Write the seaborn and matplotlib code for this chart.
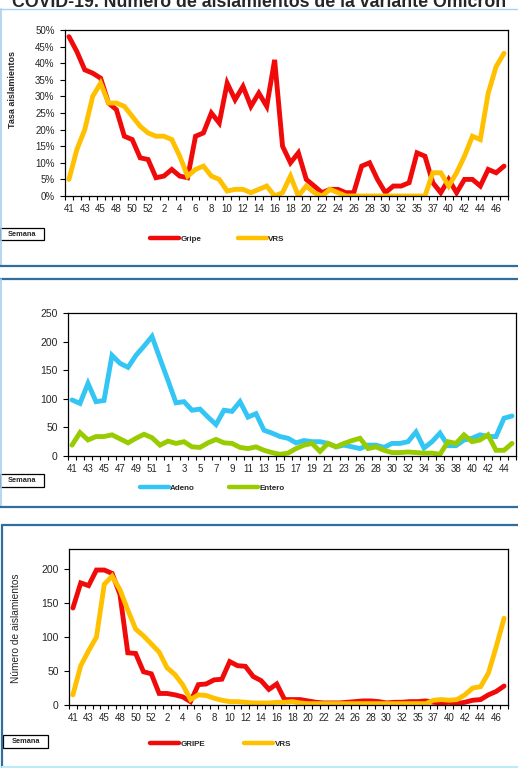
import numpy as np
import pandas as pd
import matplotlib
matplotlib.use("Agg")
import matplotlib.pyplot as plt
import seaborn as sns
from matplotlib.patches import Rectangle
from matplotlib.lines import Line2D
from matplotlib.ticker import FixedLocator

# ---------------- data ----------------
# panel 1: tasa de aislamientos (%)
semanas_1 = ["41", "42", "43", "44", "45", "47", "48", "49", "50", "51", "52",
             "1", "2", "3", "4", "5", "6", "7", "8", "9", "10", "11", "12", "13", "14",
             "15", "16", "17", "18", "19", "20", "21", "22", "23", "24", "25", "26",
             "27", "28", "29", "30", "31", "32", "34", "35", "36", "37", "39", "40",
             "41", "42", "43", "44", "45", "46", "47"]
gripe_tasa = [48, 43.5, 38, 37, 35.5, 28, 26, 18, 17, 11.5, 11, 5.5, 6, 8, 6, 5.5,
              18, 19, 25, 22, 34, 29, 33, 27, 31, 27, 41, 15, 10, 13, 5, 3, 1, 2, 2,
              1, 1, 9, 10, 5, 1, 3, 3, 4, 13, 12, 4, 1, 5, 1, 5, 5, 3, 8, 7, 9]
vrs_tasa = [5, 14, 20, 30, 34, 28, 28, 27, 24, 21, 19, 18, 18, 17, 12, 6, 8, 9, 6, 5,
            1.5, 2, 2, 1, 2, 3, 0, 1, 6, 0, 3, 1, 0, 2, 1, 0, 0, 0, 0, 0,
            0, 0, 0, 0, 0, 0, 7, 7, 3, 7, 12, 18, 17, 31, 39, 43]

# panel 2: adenovirus / enterovirus
semanas_2 = ["41", "42", "43", "44", "45", "46", "47", "48", "49", "50", "51", "52",
             "1", "2", "3", "4", "5", "6", "7", "8", "9", "10", "11", "12", "13", "14",
             "15", "16", "17", "18", "19", "20", "21", "22", "23", "25", "26", "27",
             "28", "29", "30", "31", "32", "33", "34", "35", "36", "37", "38", "39",
             "40", "41", "42", "43", "44", "45"]
adeno = [98, 92, 127, 95, 97, 176, 162, 155, 176, 192, 209,
         170, 132, 93, 95, 80, 82, 68, 55, 80, 78, 95, 68, 74,
         45, 40, 34, 31, 23, 27, 25, 25, 22, 16, 19, 16, 13, 19, 19, 15,
         22, 22, 25, 42, 14, 25, 40, 18, 18, 28, 31, 37, 34, 34, 66, 70]
entero = [19, 41, 28, 34, 34, 37, 30, 23, 31, 38, 32, 19, 26, 22, 25, 16, 15, 23,
          29, 23, 22, 15, 13, 16,
          10, 6, 3, 5, 13, 19, 22, 8, 22, 16, 22, 27, 31, 13, 16, 10, 6, 6, 7, 6,
          5, 5, 3, 25, 22, 37, 25, 28, 37, 10, 10, 22]

# panel 3: numero de aislamientos
semanas_3 = semanas_1
gripe_num = [143, 180, 176, 199, 199, 194, 163, 77, 76, 49, 46, 17, 17, 15, 12, 5,
             30, 31, 37, 38, 64, 58, 57,
             42, 36, 23, 31, 8, 8, 8, 6, 4, 3, 3, 3, 4, 5, 6, 6, 5, 3, 4, 4, 5, 5,
             6, 4, 3, 4, 2, 4, 7, 8, 15, 20, 28]
vrs_num = [15, 58, 80, 100, 178, 190, 170, 140, 112, 102, 90, 78, 55, 45, 30, 8,
           15, 14, 10, 7, 5, 5, 4, 3, 3, 3, 4, 4, 5, 3,
           2, 2, 2, 2, 2, 2, 2, 2, 2, 2, 2, 2, 2, 2, 2, 2, 7, 8, 7, 8, 15, 25, 27,
           47, 86, 128]

titulo = "COVID-19. Número de aislamientos de la variante Omicron"

# ---------------- style ----------------
sns.set_style("white")
plt.rcParams['font.family'] = ['Liberation Sans', 'DejaVu Sans']

W, H = 518, 768
fig = plt.figure(figsize=(W / 100, H / 100), dpi=100)
fig.patch.set_facecolor("white")

ROJO = "#F00A0A"
AMARILLO = "#FFC000"
AZUL = "#33C6F4"
VERDE = "#99CC00"


def px_rect(l, t, r, b):
    return [l / W, 1 - b / H, (r - l) / W, (b - t) / H]


def fig_line(x0, y0, x1, y1, color, lw):
    fig.add_artist(Line2D([x0 / W, x1 / W], [1 - y0 / H, 1 - y1 / H],
                          transform=fig.transFigure, color=color, lw=lw))


def semana_box(l, t, r, b):
    fig.add_artist(Rectangle((l / W, 1 - b / H), (r - l) / W, (b - t) / H,
                             transform=fig.transFigure, facecolor="white",
                             edgecolor="black", lw=0.9))
    fig.text((l + r) / 2 / W, 1 - (t + b) / 2 / H, "Semana", ha="center",
             va="center", fontsize=5.3, fontweight="bold")


def panel(rect, semanas, nombres, valores, colores, ylim, yticks, ytick_fmt,
          leg_x, leg_y, colspace, lw=3.5, ysize=7):
    ax = fig.add_axes(rect)
    n = len(semanas)
    pos = np.arange(n)
    df = pd.DataFrame({
        "pos": np.tile(pos, len(nombres)),
        "valor": np.concatenate([np.asarray(v, dtype=float) for v in valores]),
        "serie": np.repeat(nombres, n),
    })
    sns.lineplot(data=df, x="pos", y="valor", hue="serie", hue_order=nombres,
                 palette=dict(zip(nombres, colores)), linewidth=lw,
                 legend=False, ax=ax, solid_joinstyle="miter")
    ax.set_xlim(-0.5, n - 0.5)
    ax.set_ylim(*ylim)
    ax.set_xlabel("")
    ax.set_ylabel("")
    ax.set_xticks(pos[::2])
    ax.set_xticklabels(semanas[::2])
    ax.xaxis.set_minor_locator(FixedLocator(np.arange(n + 1) - 0.5))
    ax.tick_params(axis="x", which="major", length=0, pad=6, labelsize=7)
    ax.tick_params(axis="x", which="minor", length=3, width=0.8, color="black",
                   direction="out", bottom=True)
    ax.set_yticks(yticks)
    ax.set_yticklabels([ytick_fmt.format(v) for v in yticks])
    ax.tick_params(axis="y", length=3.5, width=0.8, color="black", direction="out",
                   left=True, pad=4, labelsize=ysize)
    for s in ax.spines.values():
        s.set_color("black")
        s.set_linewidth(0.9)
    handles = [Line2D([], [], color=c, lw=3.2) for c in colores]
    fig.legend(handles, nombres, loc="center left",
               bbox_to_anchor=(leg_x / W, 1 - leg_y / H), ncol=len(nombres),
               frameon=False, borderpad=0, borderaxespad=0, handlelength=3.6,
               handletextpad=0.15, columnspacing=colspace,
               prop={"size": 5.8, "weight": "bold"})
    return ax


# ---------------- panel 1 ----------------
panel(px_rect(65, 30, 508, 196), semanas_1, ["Gripe", "VRS"],
      [gripe_tasa, vrs_tasa], [ROJO, AMARILLO], (0, 50), np.arange(0, 51, 5),
      "{:d}%", 150, 239, 4.6)
fig.text(12.5 / W, 1 - 89 / H, "Tasa aislamientos", rotation=90, ha="center",
         va="center", fontsize=6.5, fontweight="bold")
semana_box(0, 228, 44, 240)

# ---------------- panel 2 ----------------
panel(px_rect(68, 313, 516, 456), semanas_2, ["Adeno", "Entero"],
      [adeno, entero], [AZUL, VERDE], (0, 250), np.arange(0, 251, 50),
      "{:d}", 140, 488, 4.2, ysize=7.5)
semana_box(0, 474, 44, 487)

# ---------------- panel 3 ----------------
panel(px_rect(69, 549, 508, 705), semanas_3, ["GRIPE", "VRS"],
      [gripe_num, vrs_num], [ROJO, AMARILLO], (0, 230), np.arange(0, 201, 50),
      "{:d}", 150, 744, 4.9, ysize=7.5)
fig.text(16 / W, 1 - 628 / H, "Número de aislamientos", rotation=90, ha="center",
         va="center", fontsize=7.3)
semana_box(3, 735, 48, 748)

# ---------------- page decoration ----------------
# title of the page, cut at the top edge as in the screenshot
fig.text(0.5, 1 - 6.7 / H, titulo, ha="center", va="baseline", fontsize=12.8,
         fontweight="bold")
fig_line(0, 9, W, 9, "#A9D0EE", 1.0)
fig_line(1, 9, 1, 266, "#A9D0EE", 1.2)
fig_line(0, 266, W, 266, "#2F6E9F", 1.6)
fig_line(0, 279, W, 279, "#2F6E9F", 1.6)
fig_line(1, 279, 1, 507, "#A9D0EE", 1.2)
fig_line(0, 507, W, 507, "#2F6E9F", 1.6)
fig_line(2, 525, W, 525, "#2F6E9F", 1.6)
fig_line(2, 525, 2, 768, "#2F6E9F", 1.6)
fig_line(2, 766.5, W, 766.5, "#BDEBF7", 1.5)

fig.savefig("out.png", dpi=100)
